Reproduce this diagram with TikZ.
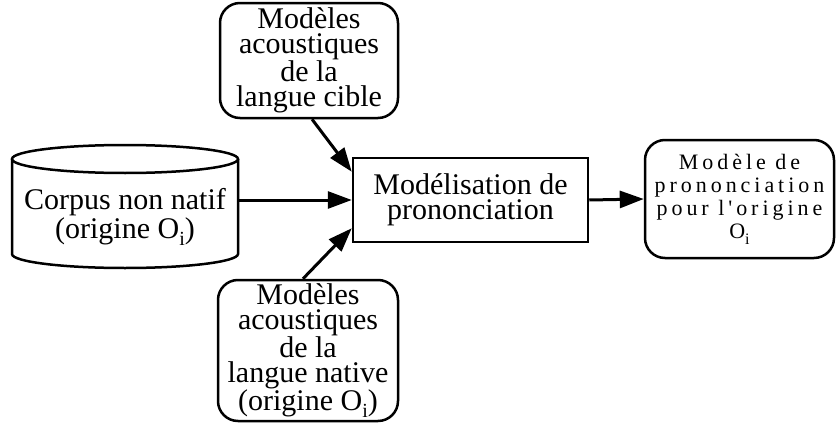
\documentclass[tikz,border=0pt]{standalone}
\usepackage{fontspec}
\setmainfont{Liberation Serif}
\newfontfamily\rfont[LetterSpace=18,Ligatures=TeXOff]{Liberation Serif}
\usetikzlibrary{arrows.meta,calc}
\newcommand\subi{\raisebox{-7pt}{\fontsize{20}{20}\selectfont i}}
\newcommand\subir{\raisebox{-6pt}{\fontsize{16}{16}\selectfont i}}
\begin{document}
\begin{tikzpicture}[x=1pt,y=-1pt,
  txt/.style={align=center,inner sep=0pt,font=\fontsize{30}{25}\selectfont},
  rbox/.style={draw,line width=2.5pt,rounded corners=20pt,inner sep=0pt},
  sbox/.style={draw,line width=2.5pt,inner sep=0pt},
  arr/.style={line width=3pt,-{Triangle[length=24pt,width=17pt]}}]
\useasboundingbox (0,0) rectangle (836,423);
% cylinder
\draw[line width=2.5pt] (125,159) ellipse[x radius=113pt,y radius=14pt];
\draw[line width=2.5pt] (12,159) -- (12,254) arc[start angle=180,end angle=360,x radius=113pt,y radius=14pt] -- (238,159);
\node[txt,minimum width=226pt] (corpus) at (125,217) {Corpus non natif\\(origine O\subi)};
% boxes
\node[rbox,txt,minimum width=178pt,minimum height=115pt] (top) at (309,60.5)
  {Modèles\\acoustiques\\de la\\langue cible};
\node[rbox,txt,minimum width=180pt,minimum height=141pt] (bot) at (308,350.5)
  {Modèles\\acoustiques\\de la\\langue native\\(origine O\subi)};
\node[sbox,txt,minimum width=235pt,minimum height=84pt] (model) at (470.5,200)
  {Modélisation de\\prononciation};
\node[rbox,align=center,inner sep=0pt,minimum width=189pt,minimum height=118pt,
  font=\rfont\fontsize{22}{23}\selectfont] (res) at (739.5,199)
  {Modèle de\\prononciation\\pour l'origine\\O\subir};
% arrows
\draw[arr] (corpus.east |- model.west) -- (model.west);
\draw[arr] ([xshift=3pt]top.south) -- ([yshift=-15pt]model.north west);
\draw[arr] ([xshift=-5pt]bot.north) -- ([yshift=15pt]model.south west);
\draw[arr] (model.east) -- (res.west);
\end{tikzpicture}
\end{document}
